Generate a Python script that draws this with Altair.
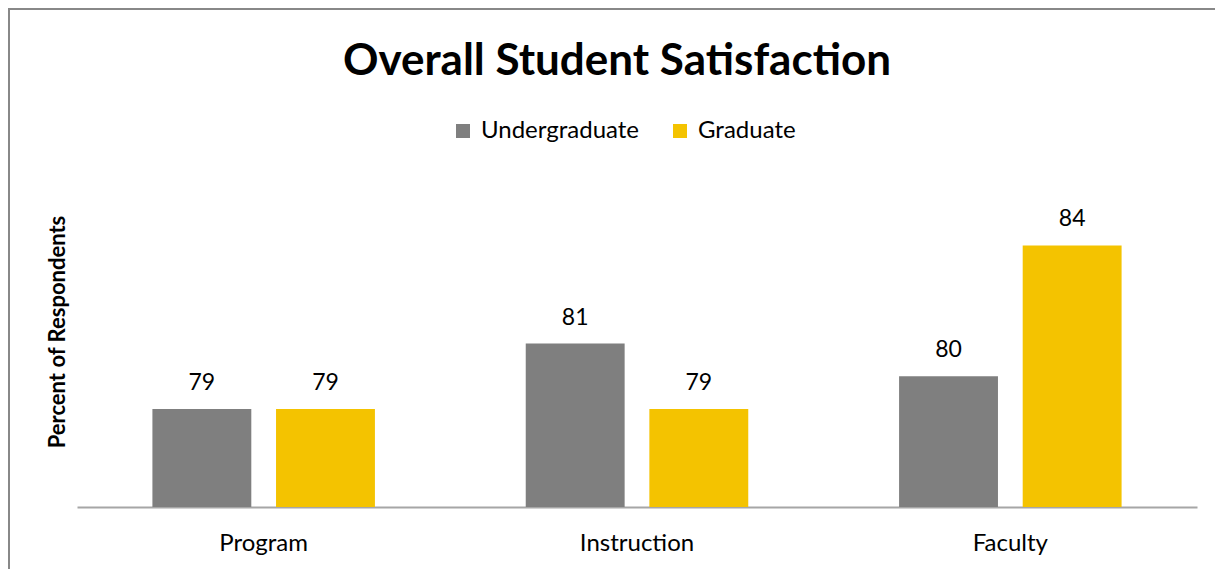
import altair as alt
import pandas as pd

categories = ["Program", "Instruction", "Faculty"]
groups = ["Undergraduate", "Graduate"]
undergrad = [79, 81, 80]
graduate = [79, 79, 84]
colors = ["#7F7F7F", "#F4C300"]

rows = []
for i, c in enumerate(categories):
    rows.append({"category": c, "group": groups[0], "value": undergrad[i]})
    rows.append({"category": c, "group": groups[1], "value": graduate[i]})
df = pd.DataFrame(rows)

FONT = "Lato"
W, H = 1120, 327
Y_MIN, Y_MAX = 76, 86
PAD_R, PAD_B = 18, 62

x = alt.X("category:N", sort=categories,
          scale=alt.Scale(paddingInner=0, paddingOuter=0),
          axis=alt.Axis(title=None, labelAngle=0, ticks=False, labelFontSize=24,
                        labelPadding=24, labelColor="#000000", labelFont=FONT,
                        domainColor="#A6A6A6", domainWidth=2))
xo = alt.XOffset("group:N", sort=groups,
                 scale=alt.Scale(paddingInner=0.2, paddingOuter=0.61))
y = alt.Y("value:Q", scale=alt.Scale(domain=[Y_MIN, Y_MAX], zero=False, nice=False),
          axis=alt.Axis(title="Percent of Respondents", domain=False, ticks=False,
                        labels=False, grid=False, titleFontSize=22, titleFont=FONT,
                        titleFontWeight="bold", titleColor="#000000", titleAngle=-90,
                        titleX=-20, titleY=H / 2 - 12, titleAlign="center",
                        titleBaseline="middle"))

bars = alt.Chart(df).mark_bar().encode(
    x=x, xOffset=xo, y=y, y2=alt.datum(Y_MIN),
    color=alt.Color("group:N", sort=groups,
                    scale=alt.Scale(domain=groups, range=colors),
                    legend=alt.Legend(title=None, orient="none", legendX=374, legendY=-61,
                                      direction="horizontal", symbolType="square",
                                      symbolSize=196, symbolStrokeWidth=0,
                                      labelFontSize=24, labelFont=FONT,
                                      labelColor="#000000", labelOffset=6,
                                      columnPadding=28)),
)

labels = alt.Chart(df).mark_text(baseline="bottom", dy=-14, fontSize=23, font=FONT,
                                  color="#000000").encode(
    x=alt.X("category:N", sort=categories), xOffset=alt.XOffset("group:N", sort=groups),
    y="value:Q", text=alt.Text("value:Q", format=".0f"),
)

border_left = alt.Chart(df).mark_rect(color="#888888").encode(
    x=alt.value(-69), x2=alt.value(-67), y=alt.value(-172), y2=alt.value(H + PAD_B))
border_top = alt.Chart(df).mark_rect(color="#888888").encode(
    x=alt.value(-69), x2=alt.value(W + PAD_R), y=alt.value(-172), y2=alt.value(-170))

chart = alt.layer(bars, labels, border_left, border_top).properties(
    width=W, height=H,
    title=alt.TitleParams("Overall Student Satisfaction", fontSize=44, font=FONT,
                          fontWeight="bold", color="#000000", anchor="middle",
                          dx=-20, offset=-76),
    autosize=alt.AutoSizeParams(type="none"),
    padding={"left": 69, "top": 172, "right": PAD_R, "bottom": PAD_B},
).configure_view(stroke=None)

chart.save("out.html", embed_options={"renderer": "svg", "actions": False})
